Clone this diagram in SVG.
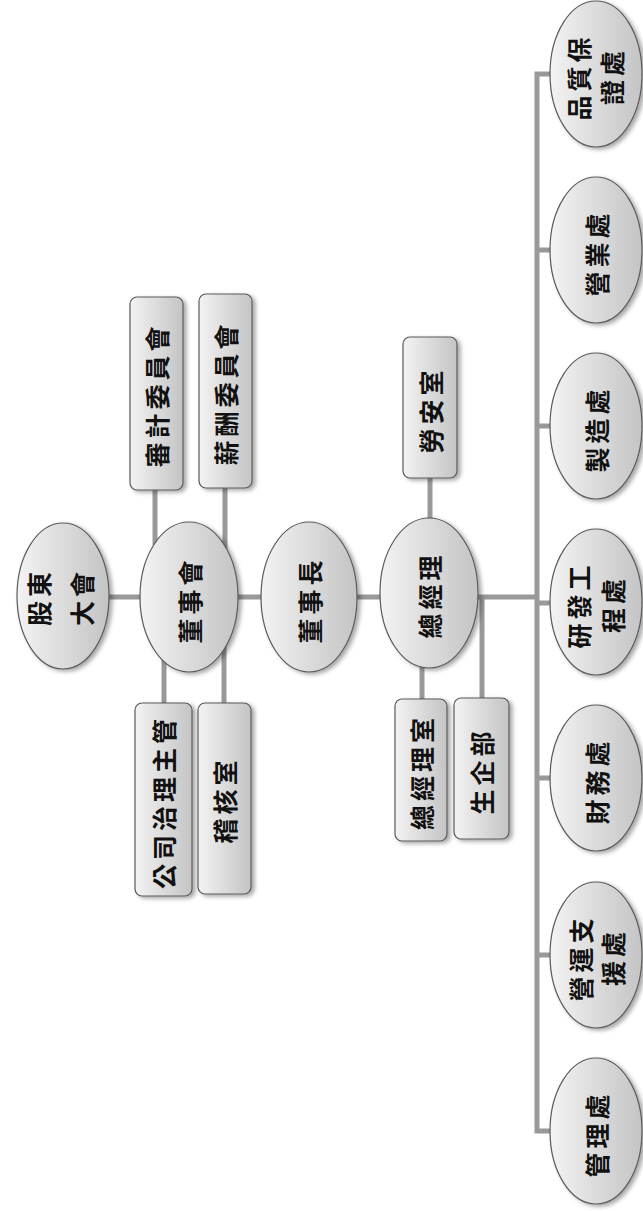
<svg xmlns="http://www.w3.org/2000/svg" width="643" height="1211" viewBox="0 0 643 1211">
<defs>
<linearGradient id="g" x1="0" y1="0" x2="1" y2="0">
<stop offset="0" stop-color="#f3f3f3"/>
<stop offset="1" stop-color="#c4c4c4"/>
</linearGradient>
<filter id="sh" x="-20%" y="-20%" width="150%" height="150%">
<feDropShadow dx="3" dy="2" stdDeviation="2" flood-color="#000" flood-opacity="0.35"/>
</filter>
</defs>
<style>
.n{fill:url(#g);stroke:#5a5a5a;stroke-width:1.2;filter:url(#sh)}
.c{fill:none;stroke:#999;stroke-width:5}
text{font-family:"Noto Sans CJK TC","Noto Sans CJK SC",sans-serif;font-size:25px;font-weight:700;fill:#111;text-anchor:middle;dominant-baseline:central;letter-spacing:4px}
</style>
<rect width="643" height="1211" fill="#fff"/>
<g id="connectors">
<path class="c" d="M100,597 H537"/>
<path class="c" d="M155,490 V545"/>
<path class="c" d="M225,488 V560"/>
<path class="c" d="M164,655 V703"/>
<path class="c" d="M224,640 V703"/>
<path class="c" d="M430,478 V525"/>
<path class="c" d="M422,655 V699"/>
<path class="c" d="M482,597 V698"/>
<path class="c" d="M555,74 H537 V1131 H555"/>
<path class="c" d="M537,250 H555 M537,426 H555 M537,603 H555 M537,778 H555 M537,955 H555"/>
</g>
<g id="n-gudong"><ellipse class="n" cx="63" cy="596" rx="46" ry="73"/><text transform="translate(38,597) rotate(-90)">股東</text><text transform="translate(81,597) rotate(-90)">大會</text></g>
<g id="n-dongshihui"><ellipse class="n" cx="189" cy="597" rx="49" ry="75"/><text transform="translate(189,600) rotate(-90)">董事會</text></g>
<g id="n-dongshizhang"><ellipse class="n" cx="309" cy="597" rx="48" ry="75"/><text transform="translate(309,600) rotate(-90)">董事長</text></g>
<g id="n-zongjingli"><ellipse class="n" cx="429" cy="593" rx="49" ry="75"/><text transform="translate(429,595) rotate(-90)">總經理</text></g>
<g id="n-shenji"><rect class="n" x="130" y="297" width="53" height="193" rx="7"/><text transform="translate(156,395) rotate(-90)">審計委員會</text></g>
<g id="n-xinchou"><rect class="n" x="199" y="294" width="53" height="194" rx="7"/><text transform="translate(225,393) rotate(-90)">薪酬委員會</text></g>
<g id="n-zhili"><rect class="n" x="135" y="703" width="57" height="193" rx="7"/><text transform="translate(163,802) rotate(-90)">公司治理主管</text></g>
<g id="n-jihe"><rect class="n" x="198" y="703" width="53" height="191" rx="7"/><text transform="translate(224,800) rotate(-90)">稽核室</text></g>
<g id="n-laoan"><rect class="n" x="403" y="337" width="54" height="141" rx="7"/><text transform="translate(430,410) rotate(-90)">勞安室</text></g>
<g id="n-zjls"><rect class="n" x="395" y="699" width="52" height="142" rx="7"/><text transform="translate(421,772) rotate(-90)">總經理室</text></g>
<g id="n-shengqi"><rect class="n" x="454" y="698" width="55" height="141" rx="7"/><text transform="translate(481,771) rotate(-90)">生企部</text></g>
<g id="n-pinzhi"><ellipse class="n" cx="596" cy="74" rx="46" ry="73"/><text transform="translate(578,77) rotate(-90)">品質保</text><text transform="translate(611,76) rotate(-90)">證處</text></g>
<g id="n-yingye"><ellipse class="n" cx="596" cy="250" rx="46" ry="73"/><text transform="translate(596,253) rotate(-90)">營業處</text></g>
<g id="n-zhizao"><ellipse class="n" cx="596" cy="426" rx="46" ry="73"/><text transform="translate(596,429) rotate(-90)">製造處</text></g>
<g id="n-yanfa"><ellipse class="n" cx="596" cy="602" rx="46" ry="73"/><text transform="translate(578,605) rotate(-90)">研發工</text><text transform="translate(612,604) rotate(-90)">程處</text></g>
<g id="n-caiwu"><ellipse class="n" cx="596" cy="778" rx="46" ry="73"/><text transform="translate(596,781) rotate(-90)">財務處</text></g>
<g id="n-yingyun"><ellipse class="n" cx="596" cy="955" rx="46" ry="73"/><text transform="translate(580,958) rotate(-90)">營運支</text><text transform="translate(612,957) rotate(-90)">援處</text></g>
<g id="n-guanli"><ellipse class="n" cx="596" cy="1131" rx="46" ry="73"/><text transform="translate(596,1134) rotate(-90)">管理處</text></g>
</svg>
